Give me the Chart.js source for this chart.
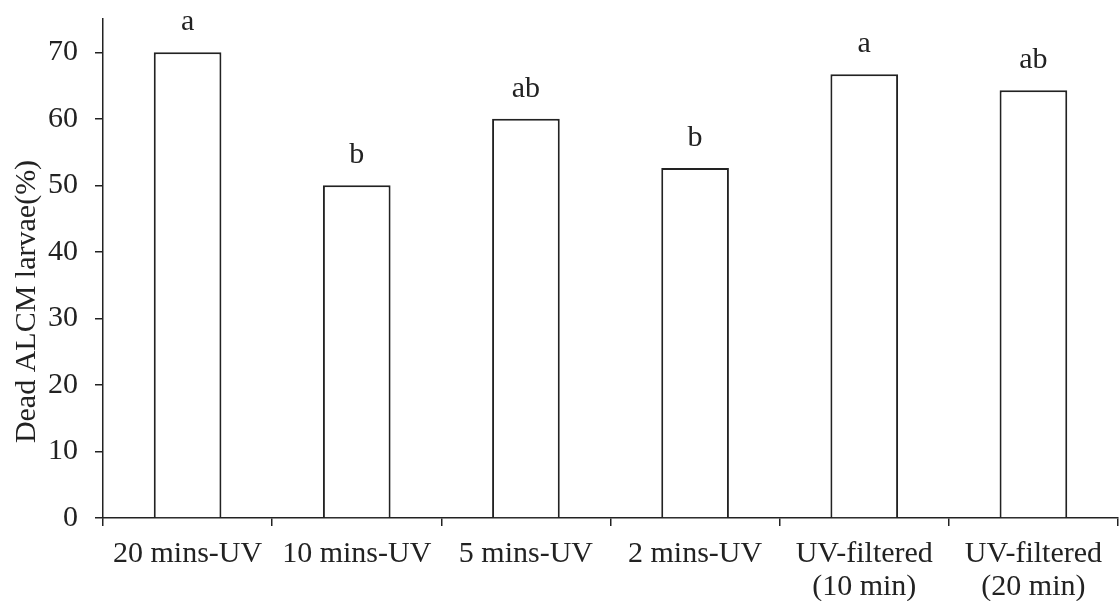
<!DOCTYPE html>
<html>
<head>
<meta charset="utf-8">
<script src="https://cdn.jsdelivr.net/npm/chart.js@4/dist/chart.umd.min.js"></script>
<style>
  html, body { margin: 0; padding: 0; background: #fff; }
  #wrap { width: 1119px; height: 601px; position: relative; }
</style>
</head>
<body>
<div id="wrap"><canvas id="c" width="1119" height="601"></canvas></div>
<script>
const categories = [
  "20 mins-UV",
  "10 mins-UV",
  "5 mins-UV",
  "2 mins-UV",
  ["UV-filtered", "(10 min)"],
  ["UV-filtered", "(20 min)"]
];
const deadLarvae = [70, 50, 60, 52.6, 66.7, 64.3];
const significance = ["a", "b", "ab", "b", "a", "ab"];
const yTicks = [0, 10, 20, 30, 40, 50, 60, 70];
const yTitle = 'Dead ALCM larvae(%)';

const INK = '#222222';
const FONT = 'Liberation Serif, "Times New Roman", serif';
const FS = 30;

const letterPlugin = {
  id: 'letters',
  afterDatasetsDraw(chart) {
    const ctx = chart.ctx;
    const meta = chart.getDatasetMeta(0);
    const area = chart.chartArea;
    ctx.save();
    ctx.fillStyle = INK;
    ctx.font = FS + 'px ' + FONT;
    ctx.textAlign = 'center';
    ctx.textBaseline = 'alphabetic';
    meta.data.forEach((bar, i) => {
      ctx.fillText(significance[i], bar.x, bar.y - 22);
    });
    // y axis title (slightly below axis center, as in the reference)
    ctx.translate(27, (area.top + area.bottom) / 2 + 33);
    ctx.rotate(-Math.PI / 2);
    ctx.textBaseline = 'middle';
    ctx.fillText(yTitle, 0, 0);
    ctx.restore();
  }
};

new Chart(document.getElementById('c'), {
  type: 'bar',
  data: {
    labels: categories,
    datasets: [{
      data: deadLarvae,
      backgroundColor: '#ffffff',
      borderColor: INK,
      borderWidth: 2,
      borderSkipped: 'bottom',
      categoryPercentage: 1,
      barPercentage: 0.4
    }]
  },
  options: {
    responsive: false,
    animation: false,
    devicePixelRatio: 1,
    layout: { padding: { top: 19, right: 1, left: 0, bottom: 0 } },
    plugins: { legend: { display: false }, tooltip: { enabled: false } },
    scales: {
      x: {
        offset: true,
        grid: { display: true, offset: true, drawOnChartArea: false, drawTicks: true, tickLength: 8, color: INK, lineWidth: 1.5 },
        border: { display: true, color: INK, width: 1.5 },
        ticks: { color: INK, font: { family: FONT, size: FS, lineHeight: 1.1 }, padding: 12, maxRotation: 0, autoSkip: false },
        afterFit(scale) { scale.height = 83; scale.paddingLeft = 0; scale.paddingRight = 0; }
      },
      y: {
        min: 0,
        max: 75,
        grid: { display: true, drawOnChartArea: false, drawTicks: true, tickLength: 8, color: INK, lineWidth: 1.5 },
        border: { display: true, color: INK, width: 1.5 },
        ticks: { color: INK, font: { family: FONT, size: FS }, padding: 17, stepSize: 10, includeBounds: false },
        afterBuildTicks(scale) { scale.ticks = yTicks.map(v => ({ value: v })); },
        title: { display: false },
        afterFit(scale) { scale.width = 103; scale.paddingTop = 0; scale.paddingBottom = 0; }
      }
    }
  },
  plugins: [letterPlugin]
});
</script>
</body>
</html>
